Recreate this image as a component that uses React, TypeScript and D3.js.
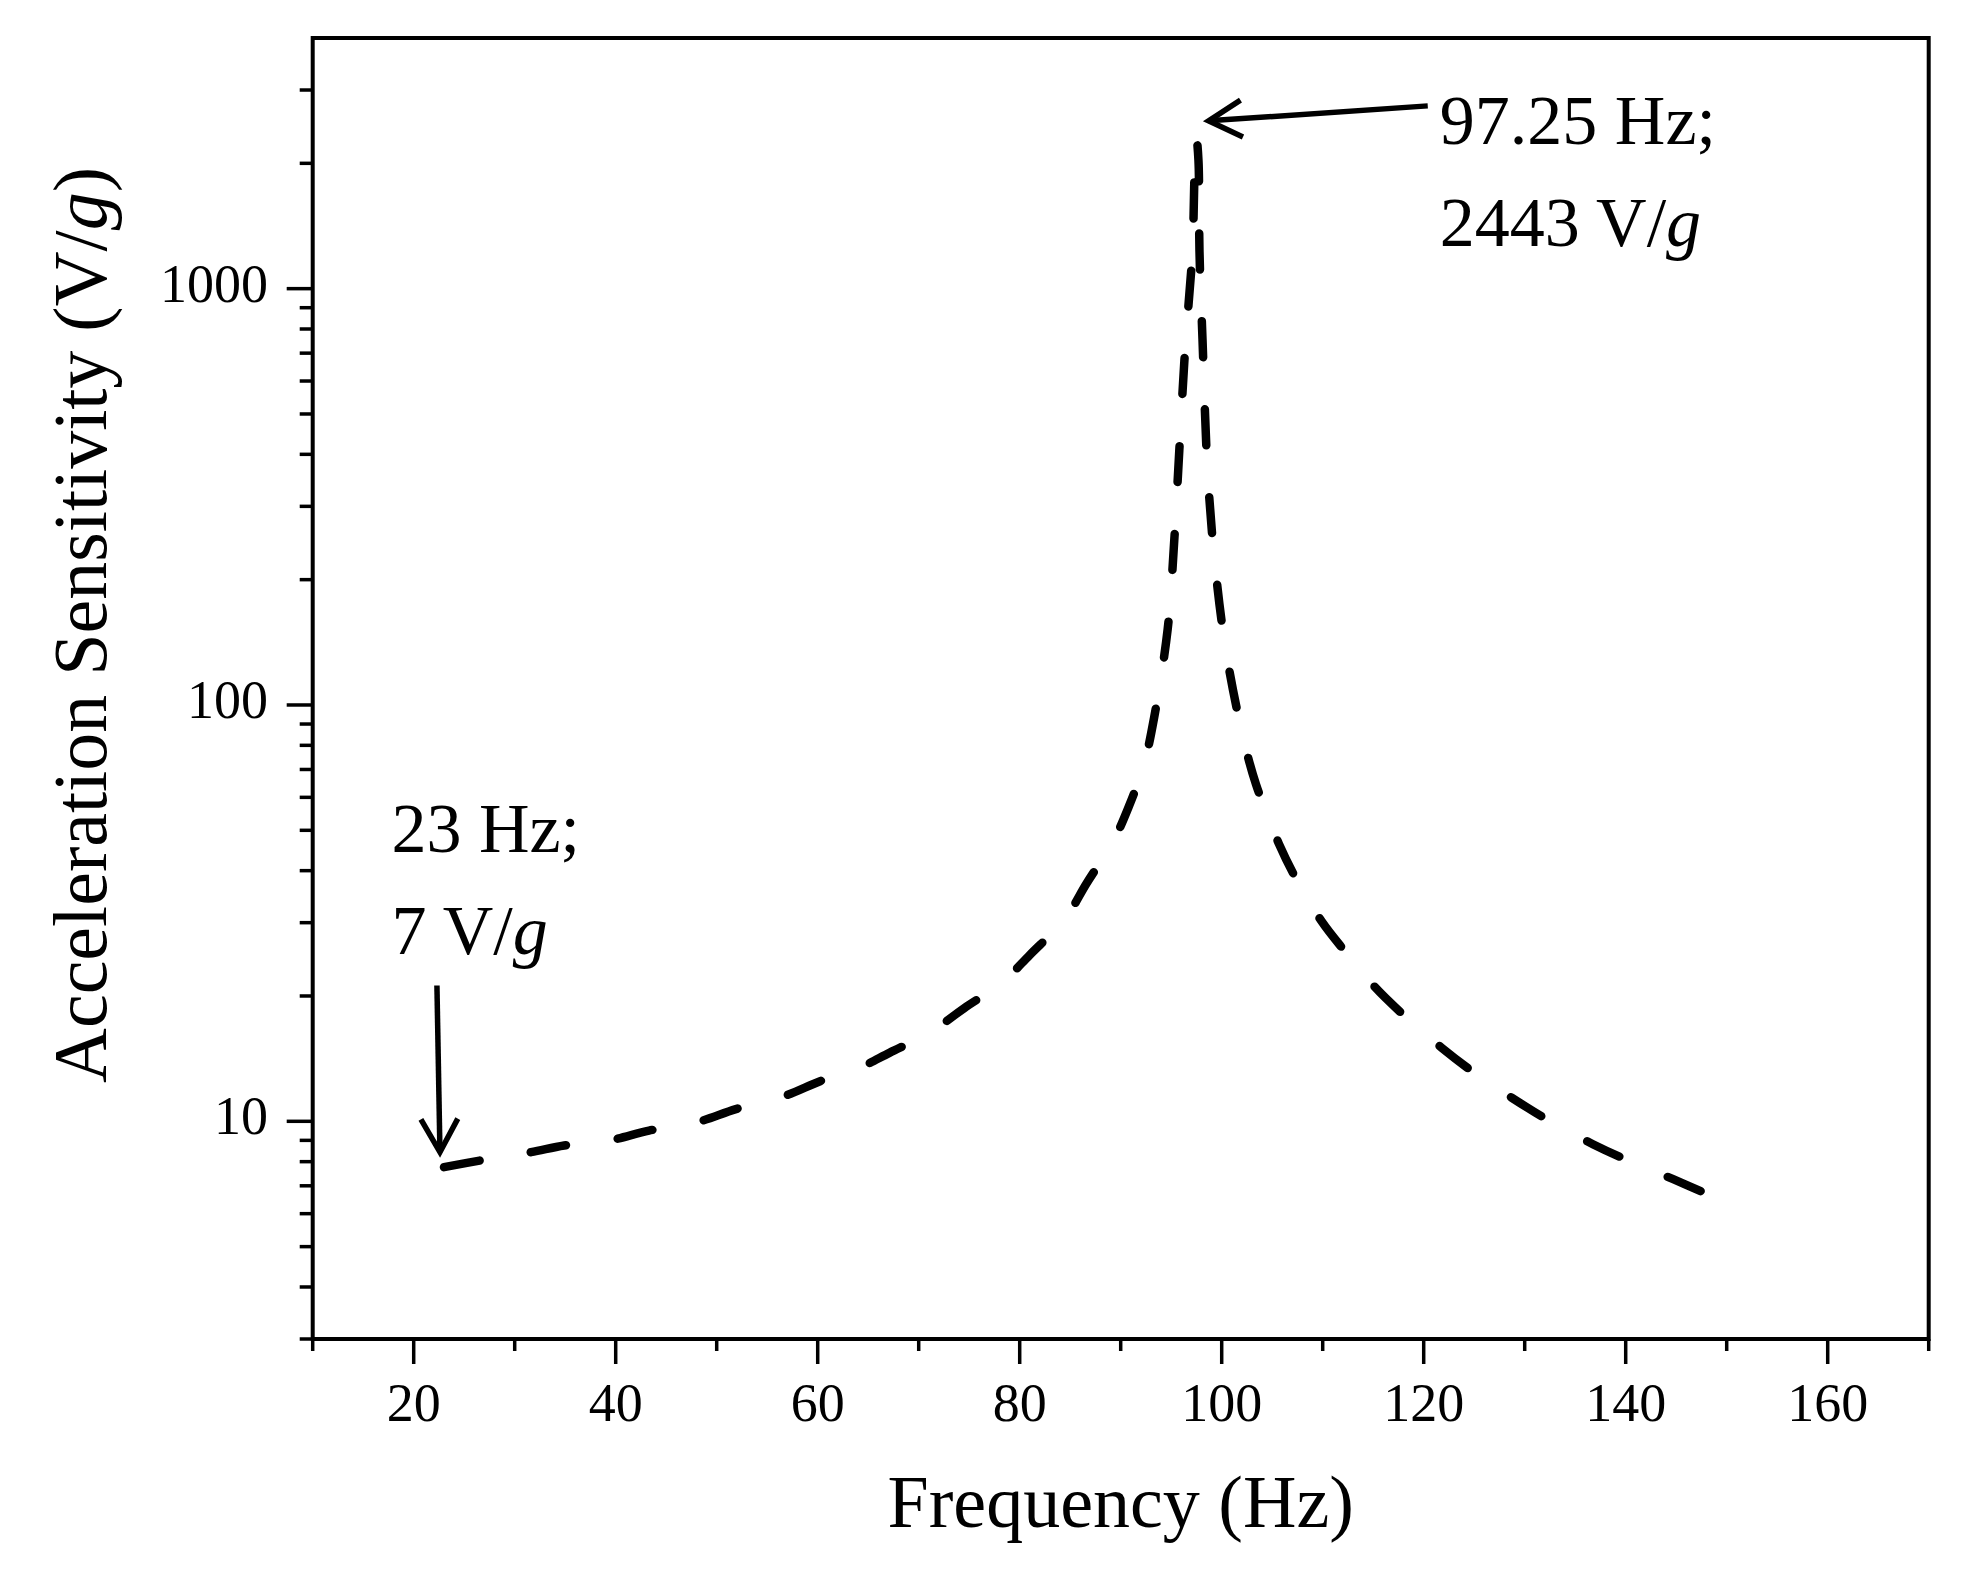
import { useEffect } from 'react';
import * as d3 from 'd3';

// frequency (Hz) and acceleration sensitivity (V/g)
const FREQ = [
  23.0, 26.7, 31.6, 34.9, 39.4, 43.3, 48.0, 51.9, 56.7, 60.3, 64.0, 67.1, 71.2, 74.5, 78.3, 81.0,
  84.5, 86.6, 89.3, 90.8, 92.3, 93.3, 94.65, 95.3, 95.8, 96.3, 96.6, 97.1, 97.35, 97.5, 97.7, 97.8,
  98.1, 98.6, 99.3, 100.4, 102.1, 103.4, 104.8, 105.7, 107.3, 109.9, 112.2, 115.1, 117.8, 121.8,
  124.6, 128.7, 132.2, 136.8, 140.2, 144.7, 148.3,
];
const SENS = [
  7.76, 8.06, 8.43, 8.75, 9.0, 9.5, 9.95, 10.7, 11.5, 12.5, 13.4, 14.6, 16.4, 18.7, 21.6, 25.1,
  30.7, 37.2, 47.3, 57, 72, 93, 152, 248, 408, 668, 843, 1230, 2030, 2300, 2030, 1230,
  755, 366, 222, 136, 84, 64.4, 52.5, 46.2, 38.5, 30.2, 25.6, 21.1, 18.2, 15.0,
  13.3, 11.4, 10.1, 8.8, 8.06, 7.26, 6.65,
];

const X_DOMAIN: [number, number] = [10, 170];
const Y_DOMAIN: [number, number] = [3, 4000];
const X_MAJOR = [20, 40, 60, 80, 100, 120, 140, 160];
const X_MINOR = [10, 30, 50, 70, 90, 110, 130, 150, 170];
const Y_MAJOR = [10, 100, 1000];
const Y_MINOR = [3, 4, 5, 6, 7, 8, 9, 20, 30, 40, 50, 60, 70, 80, 90, 200, 300, 400, 500, 600, 700, 800, 900, 2000, 3000];

// annotation anchors in data units: [Hz, V/g]
const LOW_TEXT = { at: [17.8, 44.3], lines: ['23 Hz;', '7 V/'] };
const LOW_ARROW = { from: [22.3, 21.2], to: [22.6, 8.43] };
const PEAK_TEXT = { at: [121.6, 2230], lines: ['97.25 Hz;', '2443 V/'] };
const PEAK_ARROW = { from: [120.4, 2748], to: [98.7, 2530] };

const W = 1970;
const H = 1584;
const FONT = '"P052", "Palatino Linotype", "Book Antiqua", "URW Palladio L", "Liberation Serif", serif';

export default function App() {
  useEffect(() => {
    document.body.style.margin = '0';
  }, []);

  const x = d3.scaleLinear().domain(X_DOMAIN).range([312.7, 1928.7]);
  const y = d3.scaleLog().domain(Y_DOMAIN).range([1339, 38]);
  const [x0, x1] = x.range();
  const [y0, y1] = y.range();

  const pts = FREQ.map((f, i) => [f, SENS[i]] as [number, number]);
  const line = d3.line<[number, number]>()
    .x((d) => x(d[0]))
    .y((d) => y(d[1]))
    .curve(d3.curveCatmullRom.alpha(0.5));

  const arrow = (a: { from: number[]; to: number[] }) => {
    const fx = x(a.from[0]), fy = y(a.from[1]);
    const tx = x(a.to[0]), ty = y(a.to[1]);
    const ang = Math.atan2(ty - fy, tx - fx);
    const len = 38, spread = Math.PI / 6.2;
    const w1 = [tx - len * Math.cos(ang - spread), ty - len * Math.sin(ang - spread)];
    const w2 = [tx - len * Math.cos(ang + spread), ty - len * Math.sin(ang + spread)];
    return (
      <g stroke="#000" strokeWidth={5.5} fill="none" strokeLinecap="butt">
        <line x1={fx} y1={fy} x2={tx} y2={ty} />
        <polyline points={`${w1[0]},${w1[1]} ${tx},${ty} ${w2[0]},${w2[1]}`} strokeLinejoin="miter" />
      </g>
    );
  };

  const note = (n: { at: number[]; lines: string[] }) => (
    <text x={x(n.at[0])} y={y(n.at[1])} fontSize={70} fontFamily={FONT} fill="#000">
      <tspan x={x(n.at[0])}>{n.lines[0]}</tspan>
      <tspan x={x(n.at[0])} dy={102}>{n.lines[1]}<tspan fontStyle="italic">g</tspan></tspan>
    </text>
  );

  return (
    <svg width={W} height={H} viewBox={`0 0 ${W} ${H}`} style={{ display: 'block', background: '#fff' }}>
      <rect width={W} height={H} fill="#fff" />

      {/* curve */}
      <path d={line(pts) ?? ''} fill="none" stroke="#000" strokeWidth={8.5}
        strokeDasharray="36 52" strokeLinecap="round" strokeLinejoin="round" />

      {/* frame */}
      <rect x={x0} y={y1} width={x1 - x0} height={y0 - y1} fill="none" stroke="#000" strokeWidth={4} />

      {/* ticks */}
      <g stroke="#000" strokeWidth={3.5}>
        {X_MAJOR.map((v) => <line key={`xM${v}`} x1={x(v)} x2={x(v)} y1={y0} y2={y0 + 25} />)}
        {X_MINOR.map((v) => <line key={`xm${v}`} x1={x(v)} x2={x(v)} y1={y0} y2={y0 + 12} />)}
        {Y_MAJOR.map((v) => <line key={`yM${v}`} x1={x0} x2={x0 - 26} y1={y(v)} y2={y(v)} />)}
        {Y_MINOR.map((v) => <line key={`ym${v}`} x1={x0} x2={x0 - 13} y1={y(v)} y2={y(v)} />)}
      </g>
      <g fontFamily={FONT} fontSize={54} fill="#000">
        {X_MAJOR.map((v) => (
          <text key={`xl${v}`} x={x(v)} y={1421} textAnchor="middle">{v}</text>
        ))}
        {Y_MAJOR.map((v) => (
          <text key={`yl${v}`} x={268} y={y(v) + 13} textAnchor="end">{v}</text>
        ))}
      </g>

      {/* axis titles */}
      <text x={(x0 + x1) / 2} y={1527} textAnchor="middle" fontFamily={FONT} fontSize={74} fill="#000">
        Frequency (Hz)
      </text>
      <text transform={`translate(106,625) rotate(-90)`} textAnchor="middle" fontFamily={FONT} fontSize={76} fill="#000">
        Acceleration Sensitivity (V/<tspan fontStyle="italic">g</tspan>)
      </text>

      {/* annotations */}
      {note(LOW_TEXT)}
      {arrow(LOW_ARROW)}
      {note(PEAK_TEXT)}
      {arrow(PEAK_ARROW)}
    </svg>
  );
}
